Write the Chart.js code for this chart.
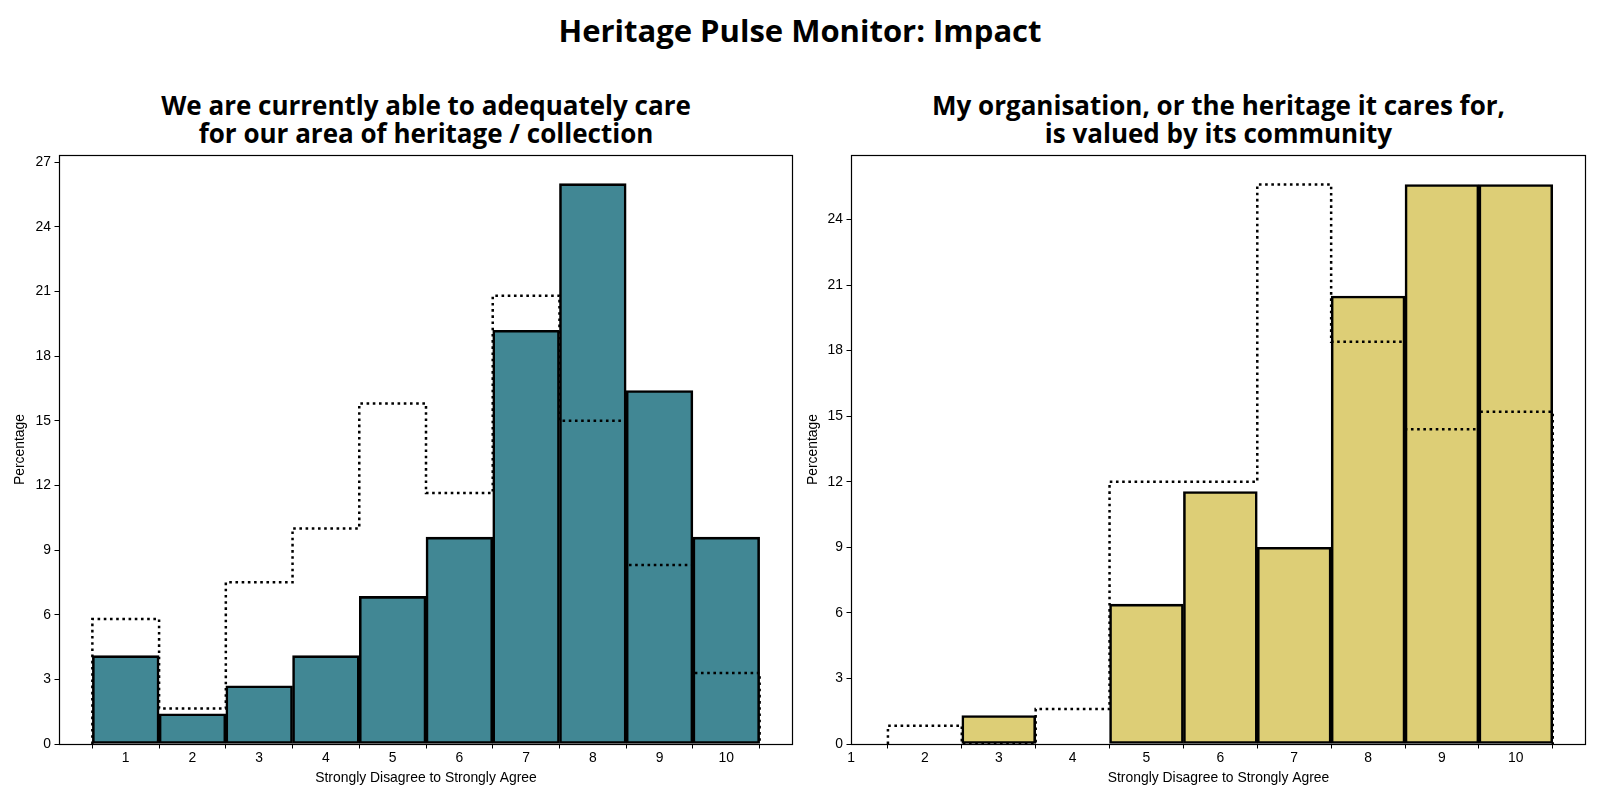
<!DOCTYPE html>
<html>
<head>
<meta charset="utf-8">
<script src="https://cdn.jsdelivr.net/npm/chart.js@4.4.1/dist/chart.umd.min.js"></script>
<style>
  html, body { margin: 0; padding: 0; background: #fff; width: 1600px; height: 800px; overflow: hidden; }
  #page { position: relative; width: 1600px; height: 800px; overflow: hidden; }
  .ttl { position: absolute; font-family: "Open Sans", "Noto Sans", sans-serif; font-weight: 700;
         color: #000; text-align: center; white-space: nowrap; }
  #mainTitle { left: 0; width: 1600px; top: 12px; font-size: 31px; line-height: 36px; }
  #subLeft { left: 59px; width: 734px; top: 91px; font-size: 26px; line-height: 28px; }
  #subRight { left: 851px; width: 735px; top: 91px; font-size: 26px; line-height: 28px; }
  .wrap { position: absolute; top: 0; height: 800px; }
  .wrap canvas { display: block; }
  #wrapLeft { left: 0; width: 795px; }
  #wrapRight { left: 795px; width: 805px; }
</style>
</head>
<body>
<div id="page">
  <div class="ttl" id="mainTitle">Heritage Pulse Monitor: Impact</div>
  <div class="ttl" id="subLeft">We are currently able to adequately care<br>for our area of heritage / collection</div>
  <div class="ttl" id="subRight">My organisation, or the heritage it cares for,<br>is valued by its community</div>
  <div class="wrap" id="wrapLeft"><canvas id="chartLeft"></canvas></div>
  <div class="wrap" id="wrapRight"><canvas id="chartRight"></canvas></div>
</div>
<script>
// Data
const careCategories = [1, 2, 3, 4, 5, 6, 7, 8, 9, 10];
const careCurrent = [4.1, 1.4, 2.7, 4.1, 6.85, 9.6, 19.2, 26.0, 16.4, 9.6];
const careBaseline = [5.8, 1.65, 7.5, 10.0, 15.8, 11.65, 20.8, 15.0, 8.3, 3.3];

const valuedCategories = [2, 3, 4, 5, 6, 7, 8, 9, 10];
const valuedCurrent = [0, 1.3, 0, 6.4, 11.55, 9.0, 20.5, 25.6, 25.6];
const valuedBaseline = [0.84, 0, 1.6, 12.0, 12.0, 25.6, 18.4, 14.4, 15.2];

const xTickValues = [1, 2, 3, 4, 5, 6, 7, 8, 9, 10];
const careYTicks = [0, 3, 6, 9, 12, 15, 18, 21, 24, 27];
const valuedYTicks = [0, 3, 6, 9, 12, 15, 18, 21, 24];

const TEAL = '#418794';
const SAND = '#ddce76';
const TICK_FONT = { family: '"Liberation Sans", Arial, sans-serif', size: 13.9 };

// Helper
const $ = sel => document.querySelector(sel);

// step outline (like histtype='step') built from the category values
function stepPoints(cats, vals) {
  const pts = [{ x: cats[0] - 0.5, y: 0 }];
  cats.forEach((c, i) => {
    pts.push({ x: c - 0.5, y: vals[i] });
    pts.push({ x: c + 0.5, y: vals[i] });
  });
  pts.push({ x: cats[cats.length - 1] + 0.5, y: 0 });
  return pts;
}

// box around the plot area
const frame = {
  id: 'frame',
  afterDatasetsDraw(chart) {
    const { ctx, chartArea: a } = chart;
    ctx.save();
    ctx.strokeStyle = '#000';
    ctx.lineWidth = 1.2;
    ctx.strokeRect(a.left + 0.5, a.top + 0.5, a.right - a.left - 1, a.bottom - a.top);
    ctx.restore();
  }
};

function makeChart(el, cfg) {
  return new Chart(el, {
    type: 'bar',
    data: {
      datasets: [
        {
          type: 'line',
          data: stepPoints(cfg.cats, cfg.baseline),
          borderColor: '#000',
          borderWidth: 2.5,
          borderDash: [2.6, 3.6],
          borderCapStyle: 'butt',
          pointRadius: 0,
          tension: 0,
          fill: false,
          order: 0
        },
        {
          type: 'bar',
          data: cfg.cats.map((c, i) => ({ x: c, y: cfg.current[i] })),
          backgroundColor: cfg.color,
          borderColor: '#000',
          borderWidth: 2.6,
          borderSkipped: false,
          categoryPercentage: 1,
          barPercentage: 1,
          order: 1
        }
      ]
    },
    options: {
      responsive: true,
      maintainAspectRatio: false,
      animation: false,
      layout: { padding: { top: 155, right: cfg.padRight, left: 0, bottom: 0 } },
      plugins: { legend: { display: false }, tooltip: { enabled: false } },
      scales: {
        x: {
          type: 'linear',
          offset: false,
          min: cfg.xMin,
          max: cfg.xMax,
          afterBuildTicks: s => { s.ticks = xTickValues.map(v => ({ value: v })); },
          afterFit: s => { s.height = 56; },
          grid: { drawOnChartArea: false, drawTicks: true, tickLength: 4.5, color: '#000' },
          border: { display: false },
          ticks: { color: '#000', font: TICK_FONT, padding: 1, maxRotation: 0 },
          title: { display: true, text: 'Strongly Disagree to Strongly Agree', color: '#000',
                   font: TICK_FONT, padding: { top: 0, bottom: 13 } }
        },
        y: {
          min: 0,
          max: cfg.yMax,
          afterBuildTicks: s => { s.ticks = cfg.yTicks.map(v => ({ value: v })); },
          afterFit: s => { s.width = cfg.yWidth; },
          grid: { drawOnChartArea: false, drawTicks: true, tickLength: 4.5, color: '#000' },
          border: { display: false },
          ticks: { color: '#000', font: TICK_FONT, padding: 3.5 },
          title: { display: true, text: 'Percentage', color: '#000', font: TICK_FONT,
                   padding: { top: cfg.yTitlePad, bottom: 0 } }
        }
      }
    },
    plugins: [frame]
  });
}

document.addEventListener('DOMContentLoaded', () => {
  makeChart($('#chartLeft'), {
    cats: careCategories, current: careCurrent, baseline: careBaseline, color: TEAL,
    xMin: 0, xMax: 11, yMax: 27.33, yTicks: careYTicks, yWidth: 59, padRight: 2, yTitlePad: 12
  });
  makeChart($('#chartRight'), {
    cats: valuedCategories, current: valuedCurrent, baseline: valuedBaseline, color: SAND,
    xMin: 1, xMax: 10.95, yMax: 26.95, yTicks: valuedYTicks, yWidth: 56, padRight: 14, yTitlePad: 10
  });
});
</script>
</body>
</html>
